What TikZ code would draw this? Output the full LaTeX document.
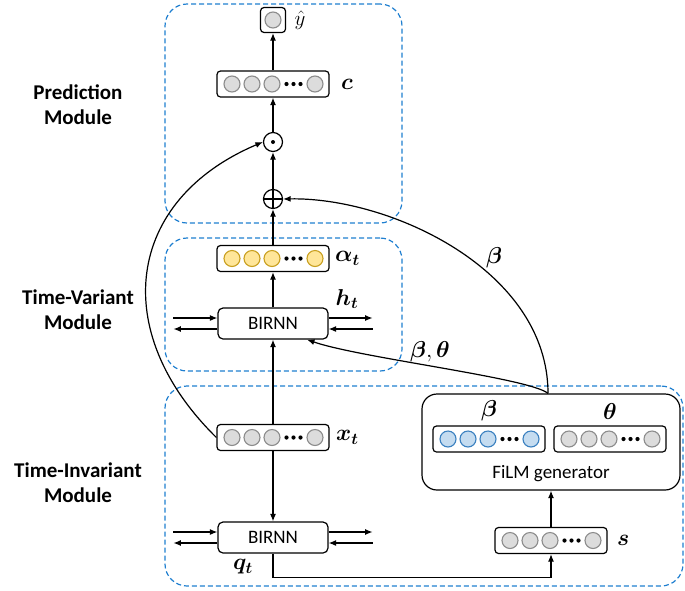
\RequirePackage{fix-cm}
\documentclass[tikz,border=0pt]{standalone}
\usepackage{fontspec}
\setmainfont{Carlito}
\usepackage{amsmath,bm}
\usetikzlibrary{arrows.meta,positioning,calc}

\definecolor{modblue}{HTML}{1F7FD0}
\definecolor{unitgray}{HTML}{DCDCDC}
\definecolor{unitgrayd}{HTML}{8C8C8C}
\definecolor{unityel}{HTML}{FFE699}
\definecolor{unityeld}{HTML}{C9A020}
\definecolor{unitblue}{HTML}{C5DCF0}
\definecolor{unitblued}{HTML}{3A80C0}

\tikzset{
  >={Latex[length=7.5pt,width=6pt]},
  module/.style={draw=modblue, line width=1.2pt, dash pattern=on 5pt off 3pt, rounded corners=22pt, inner sep=0pt},
  vecbox/.style={draw, line width=1.2pt, rounded corners=3.5pt, minimum width=112pt, minimum height=26pt, inner sep=0pt, fill=white},
  unit/.style={circle, line width=1.1pt, minimum size=16pt, inner sep=0pt},
  rnnbox/.style={draw, line width=1.2pt, rounded corners=5pt, minimum width=110pt, minimum height=31pt, font=\fontsize{19}{22}\selectfont},
  opnode/.style={circle, draw, line width=1.2pt, minimum size=19pt, inner sep=0pt},
  modlabel/.style={align=center, font=\fontsize{21}{25}\selectfont\bfseries},
  lbl/.style={inner sep=0pt, font=\fontsize{23}{26}\selectfont},
}

% name, x, y, fill, border
\newcommand{\featvec}[5]{%
  \node[vecbox] (#1) at (#2,#3) {};
  \foreach \dx in {-41,-21,-1,42}
    \node[unit, fill=#4, draw=#5] at ([xshift=\dx pt]#1.center) {};
  \foreach \dx in {13.5,20.5,27.5}
    \fill ([xshift=\dx pt]#1.center) circle (2.1pt);
}

\begin{document}
\begin{tikzpicture}[x=1pt, y=-1pt, line width=1.2pt]
\useasboundingbox (0,0) rectangle (685,590);

% modules
\node[module, minimum width=237pt, minimum height=219pt] (predmod) at (283.5,113.5) {};
\node[module, minimum width=237pt, minimum height=133pt] (varmod) at (283.5,304.5) {};
\node[module, minimum width=518pt, minimum height=200pt] (invmod) at (424,486) {};

\node[modlabel] (predlbl) at (78,105) {Prediction\\Module};
\node[modlabel] (varlbl) at (78,310) {Time-Variant\\Module};
\node[modlabel] (invlbl) at (78,483) {Time-Invariant\\Module};

% prediction module
\node[vecbox, minimum width=25pt, minimum height=25pt] (yhat) at (273,20) {};
\node[unit, fill=unitgray, draw=unitgrayd] at (yhat.center) {};
\node[lbl, right=8pt of yhat] (yhatlbl) {\fontsize{21}{24}\selectfont$\hat{y}$};
\featvec{cvec}{273}{84}{unitgray}{unitgrayd}
\node[lbl, right=11pt of cvec] (clbl) {$\bm{c}$};
\node[opnode] (odot) at (273,142) {};
\fill (odot.center) circle (2pt);
\node[opnode] (oplus) at (273,199) {};
\draw (oplus.north) -- (oplus.south) (oplus.west) -- (oplus.east);

% time-variant module
\featvec{alpha}{273}{258.5}{unityel}{unityeld}
\node[lbl, right=5pt of alpha] (alphalbl) {$\bm{\alpha_t}$};
\node[rnnbox] (rnnU) at (273,323.5) {BIRNN};
\node[lbl] (htlbl) at (347,299) {$\bm{h_t}$};

% time-invariant module
\featvec{xt}{273}{437.5}{unitgray}{unitgrayd}
\node[lbl, right=6pt of xt] (xtlbl) {$\bm{x_t}$};
\node[rnnbox] (rnnL) at (273,537.5) {BIRNN};
\node[lbl] (qtlbl) at (243,567) {$\bm{q_t}$};
\featvec{svec}{551}{540.5}{unitgray}{unitgrayd}
\node[lbl, right=9pt of svec] (slbl) {$\bm{s}$};

\node[draw, rounded corners=15pt, minimum width=258pt, minimum height=96pt] (film) at (551,442) {};
\featvec{betavec}{489}{439}{unitblue}{unitblued}
\featvec{thetavec}{610}{439}{unitgray}{unitgrayd}
\node[lbl, above=4pt of betavec] (betalbl) {$\bm{\beta}$};
\node[lbl, above=5pt of thetavec] (thetalbl) {$\bm{\theta}$};
\node[font=\fontsize{19}{22}\selectfont] (filmlbl) at (551,474) {FiLM generator};

% bidirectional side arrows
\foreach \r in {rnnU,rnnL} {
  \coordinate (\r-lin) at ([xshift=-44pt,yshift=5.5pt]\r.west);
  \coordinate (\r-lout) at ([xshift=-44pt,yshift=-5.5pt]\r.west);
  \coordinate (\r-rout) at ([xshift=44pt,yshift=5.5pt]\r.east);
  \coordinate (\r-rin) at ([xshift=44pt,yshift=-5.5pt]\r.east);
  \draw[->] (\r-lin) -- (\r-lin -| \r.west);
  \draw[->] (\r-lout -| \r.west) -- (\r-lout);
  \draw[->] (\r-rout -| \r.east) -- (\r-rout);
  \draw[->] (\r-rin) -- (\r-rin -| \r.east);
}

% edges
\draw[->] (cvec) -- (yhat);
\draw[->] (odot) -- (cvec);
\draw[->] (oplus) -- (odot);
\draw[->] (alpha) -- (oplus);
\draw[->] (rnnU) -- (alpha);
\draw[->] (xt) -- (rnnU);
\draw[->] (xt) -- (rnnL);
\draw[->] (rnnL.south) -- ++(0,24) -| (svec.south);
\draw[->] (svec) -- (film);

\draw[->] (xt.west) .. controls (108,331) and (126,200) .. (odot.west);
\draw[->] ([xshift=-3pt]film.north) .. controls (548,270) and (390,197) .. (oplus.east);
\draw[->] ([xshift=-3pt]film.north) .. controls (530,378) and (360,358) .. ([xshift=34pt]rnnU.south);
\node[lbl] (betaedge) at (494,258) {$\bm{\beta}$};
\node[lbl] (btedge) at (430,352) {$\bm{\beta},\bm{\theta}$};

\end{tikzpicture}
\end{document}
